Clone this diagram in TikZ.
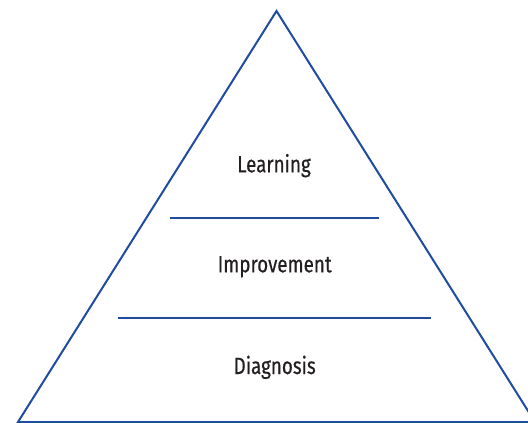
\documentclass[tikz,border=0pt]{standalone}
\usepackage{fontspec}
\setmainfont{Fira Sans}[FakeStretch=0.8,FakeBold=0.4]
\definecolor{edgeblue}{HTML}{1F4C9E}
\definecolor{inkdark}{HTML}{231F20}
\begin{document}
\begin{tikzpicture}[x=1pt,y=-1pt,
  outline/.style={draw=edgeblue,line width=2pt,line join=miter},
  divider/.style={draw=edgeblue,line width=1.4pt},
  level/.style={anchor=base,text=inkdark,font=\fontsize{23.5}{26}\selectfont,inner sep=0pt}]
\useasboundingbox (0,0) rectangle (528,423);
\clip (0,0) rectangle (528,423);
% pyramid outline
\coordinate (apex) at (276.5,11);
\coordinate (bl) at (18,422);
\coordinate (br) at (535,422);
\draw[outline] (bl) -- (apex) -- (br) -- cycle;
% tier dividers
\coordinate (d1a) at (170,218);
\coordinate (d1b) at (379,218);
\coordinate (d2a) at (118,318);
\coordinate (d2b) at (430.7,318);
\draw[divider] (d1a) -- (d1b);
\draw[divider] (d2a) -- (d2b);
% tier labels
\node[level] (learn) at (274,172.3) {Learning};
\node[level] (impr) at (274.7,272.3) {Improvement};
\node[level] (diag) at (274.7,374) {Diagnosis};
\end{tikzpicture}
\end{document}
